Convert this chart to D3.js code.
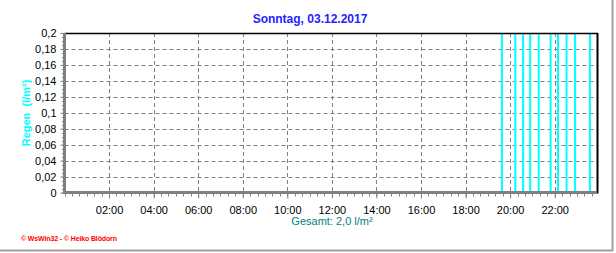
<!DOCTYPE html>
<html><head><meta charset="utf-8">
<script src="https://cdn.jsdelivr.net/npm/d3@7"></script>
<style>body{margin:0;background:#fff}svg{display:block}text{font-family:"Liberation Sans",Arial,sans-serif}</style>
</head><body>
<script>
const title = "Sonntag, 03.12.2017";
const yLabel = "Regen\u00a0 (l/m²)";
const totalLabel = "Gesamt: 2,0 l/m²";
const footer = "© WsWin32 - © Heiko Blödorn";
const rainTimes = ["19:38","20:14","20:35","20:54","21:17","21:49","22:09","22:32","22:55","23:35"];
const rainValues = [0.2,0.2,0.2,0.2,0.2,0.2,0.2,0.2,0.2,0.2];
const xTickHours = [2,4,6,8,10,12,14,16,18,20,22];
const yTicks = [0,0.02,0.04,0.06,0.08,0.1,0.12,0.14,0.16,0.18,0.2];

const W=616,H=253;
const svg=d3.select("body").append("svg").attr("width",W).attr("height",H);
const L=64.5,R=597,T=33,B=192.5;
const x=d3.scaleLinear().domain([0,23.9]).range([L,R]);
const y=d3.scaleLinear().domain([0,0.2]).range([B,T]);
const hrs=t=>{const [h,m]=t.split(":").map(Number);return h+m/60;};
const fmtH=h=>String(h).padStart(2,"0")+":00";

// image frame
svg.append("line").attr("x1",612.5).attr("x2",612.5).attr("y1",0).attr("y2",251).attr("stroke","#a0a0a0").attr("stroke-width",2);
svg.append("line").attr("x1",0).attr("x2",613).attr("y1",250.5).attr("y2",250.5).attr("stroke","#a0a0a0").attr("stroke-width",2);

// grid
const g=svg.append("g");
g.selectAll(".hg").data(yTicks.filter(v=>v>0&&v<0.2)).join("line")
 .attr("x1",L).attr("x2",R).attr("y1",d=>Math.round(y(d))+0.5).attr("y2",d=>Math.round(y(d))+0.5)
 .attr("stroke","#808080").attr("stroke-dasharray","4,3");
g.selectAll(".vg").data(xTickHours).join("line")
 .attr("x1",d=>Math.round(x(d))+0.5).attr("x2",d=>Math.round(x(d))+0.5).attr("y1",T).attr("y2",B)
 .attr("stroke","#808080").attr("stroke-dasharray","4,3");

// rain bars
svg.selectAll(".bar").data(rainTimes.map((t,i)=>({h:hrs(t),v:rainValues[i]}))).join("line")
 .attr("x1",d=>x(d.h)).attr("x2",d=>x(d.h)).attr("y1",d=>y(d.v)).attr("y2",B)
 .attr("stroke","#00ffff").attr("stroke-width",2);

// top & right frame
svg.append("line").attr("x1",L).attr("x2",R+1).attr("y1",T+0.5).attr("y2",T+0.5).attr("stroke","#000").attr("stroke-width",1.5);
svg.append("line").attr("x1",R+0.5).attr("x2",R+0.5).attr("y1",T).attr("y2",B+1).attr("stroke","#000").attr("stroke-width",2);

// y axis
const ya=svg.append("g").attr("transform",`translate(${L},0)`)
 .call(d3.axisLeft(y).tickValues(yTicks).tickSize(4).tickFormat(d=>d3.format(".2~f")(d).replace(".",",")));
ya.select(".domain").remove();
ya.selectAll("line").attr("stroke","#808080");
ya.selectAll("text").attr("font-size","11px").attr("fill","#000").attr("dx","-1");
const yMinor=d3.range(0,0.2001,0.005);
svg.selectAll(".ym").data(yMinor).join("line").attr("x1",L-2.5).attr("x2",L).attr("y1",d=>Math.round(y(d))+0.5).attr("y2",d=>Math.round(y(d))+0.5).attr("stroke","#808080");
svg.append("line").attr("x1",L).attr("x2",L).attr("y1",T).attr("y2",B+1.5).attr("stroke","#808080").attr("stroke-width",3);

// x axis
const xa=svg.append("g").attr("transform",`translate(0,${B})`)
 .call(d3.axisBottom(x).tickValues(xTickHours).tickSize(6).tickFormat(fmtH));
xa.select(".domain").remove();
xa.selectAll("line").attr("stroke","#808080");
xa.selectAll("text").attr("font-size","11px").attr("fill","#000").attr("dy","1.15em");
const xMinor=d3.range(0,24,1/3);
svg.selectAll(".xm").data(xMinor).join("line").attr("x1",d=>Math.round(x(d))+0.5).attr("x2",d=>Math.round(x(d))+0.5).attr("y1",B).attr("y2",B+4).attr("stroke","#808080");
svg.append("line").attr("x1",L-1.5).attr("x2",R).attr("y1",B).attr("y2",B).attr("stroke","#808080").attr("stroke-width",3);

// texts
svg.append("text").attr("x",310).attr("y",23).attr("text-anchor","middle").attr("font-size","12px").attr("font-weight","bold").attr("fill","#1f1fff").text(title);
svg.append("text").attr("transform","translate(30,113) rotate(-90)").attr("text-anchor","middle").attr("font-size","11px").attr("font-weight","bold").attr("fill","#00ffff").text(yLabel);
svg.append("text").attr("x",332).attr("y",225).attr("text-anchor","middle").attr("font-size","11px").attr("fill","#008080").text(totalLabel);
svg.append("text").attr("x",21).attr("y",241).attr("font-size","7px").attr("font-weight","bold").attr("fill","#ff0000").attr("textLength",96).text(footer);
</script>
</body></html>
